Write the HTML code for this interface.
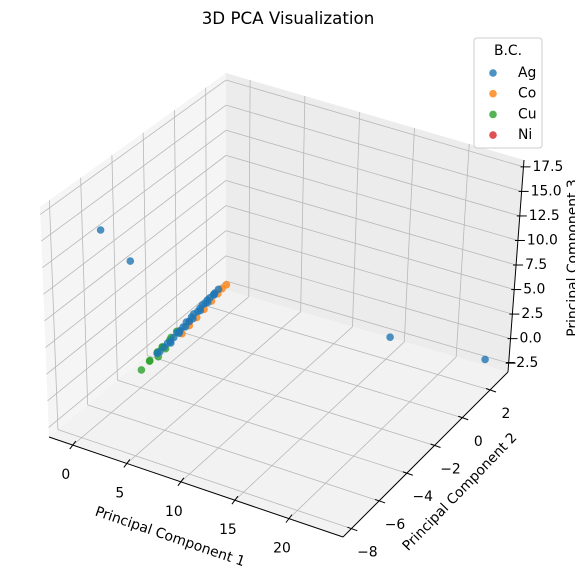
<!DOCTYPE html>
<html><head><meta charset="utf-8"><style>
html,body{margin:0;padding:0;background:#fff;}
svg{display:block;font-family:"DejaVu Sans","Liberation Sans",sans-serif;}
</style></head><body>
<svg id="chart" width="575" height="581" viewBox="0 0 575 581" xmlns="http://www.w3.org/2000/svg">
<text x="288" y="24" font-size="16.7" text-anchor="middle" fill="#000">3D PCA Visualization</text>
<g id="panes"></g><g id="grid"></g><g id="axes"></g><g id="points"></g>
<g id="legend">
<rect x="474" y="38" width="68" height="110" rx="3" fill="#fff" fill-opacity="0.85" stroke="#ccc"/>
<text x="508" y="55" font-size="13.9" text-anchor="middle">B.C.</text>
</g>
</svg>
<script>
const seriesNames = ["Ag","Co","Cu","Ni"];
const seriesColors = ["#1f77b4","#ff7f0e","#2ca02c","#d62728"];
const agX = [1.55,4.2,14.8,23,1.3,1.6,2.0,2.3,2.6,2.9,3.2,3.5,3.8,4.1,4.4,4.6,4.9,5.1,5.4,5.6,5.9,6.1,6.4,6.6,6.8,7.0,2.2,3.0,3.6,4.3,5.0,5.7,6.3];
const agY = [-7.4,-7.4,2.4,3.1,-3.6,-4.0,-3.8,-3.6,-4.0,-3.8,-3.6,-4.0,-3.8,-3.6,-4.0,-3.8,-3.6,-4.0,-3.8,-3.6,-4.0,-3.8,-3.6,-4.0,-3.8,-3.7,-3.5,-3.5,-3.5,-3.5,-3.5,-3.5,-3.5];
const agZ = [15.9,13.8,-1.8,-2.45,0.0,0.4,0.9,1.3,1.7,2.1,2.6,3.0,3.4,3.8,4.3,4.6,5.0,5.3,5.7,6.0,6.4,6.7,7.1,7.3,7.6,7.9,1.0,2.2,3.0,4.0,5.0,6.0,6.9];
const coX = [3.4,4.1,4.8,5.5,6.2,6.8,7.2,7.6];
const coY = [-3.6,-3.6,-3.6,-3.6,-3.6,-3.6,-3.6,-3.6];
const coZ = [2.4,3.4,4.4,5.4,6.4,7.3,7.9,8.4];
const cuX = [-0.2,0.6,0.9,1.2,1.5,1.8,2.1,2.4,2.8,3.2,1.0,1.7];
const cuY = [-3.8,-3.8,-4.0,-3.7,-3.9,-3.8,-4.0,-3.7,-3.9,-3.8,-3.5,-3.5];
const cuZ = [-2,-0.9,-0.5,0.0,0.4,0.8,1.2,1.6,2.2,2.8,-0.7,0.3];
const niX = [3.2,4.1];
const niY = [-3.6,-3.6];
const niZ = [2.6,3.8];
const xTicks = [0,5,10,15,20];
const yTicks = [-8,-6,-4,-2,0,2];
const zTicks = [-2.5,0,2.5,5,7.5,10,12.5,15,17.5];
const xTickLabels = ["0","5","10","15","20"];
const yTickLabels = ["\u22128","\u22126","\u22124","\u22122","0","2"];
const zTickLabels = ["\u22122.5","0.0","2.5","5.0","7.5","10.0","12.5","15.0","17.5"];

const XR=[-2.2,25], YR=[-8.6,3.3], ZR=[-3.4,18.2];
const F={A:[49,437],B:[343,537],C:[508,372],D:[226,290]};
const T={A:[40,207],B:[338,294],C:[524,160],D:[226,73]};
function bil(Q,u,v){const r=[0,0];for(let i=0;i<2;i++){r[i]=Q.A[i]*(1-u)*(1-v)+Q.B[i]*u*(1-v)+Q.C[i]*u*v+Q.D[i]*(1-u)*v;}return r;}
function proj(x,y,z){const u=(x-XR[0])/(XR[1]-XR[0]),v=(y-YR[0])/(YR[1]-YR[0]),w=(z-ZR[0])/(ZR[1]-ZR[0]);
 const a=bil(F,u,v),b=bil(T,u,v);return [a[0]*(1-w)+b[0]*w,a[1]*(1-w)+b[1]*w];}
const NS="http://www.w3.org/2000/svg";
function mk(tag,attrs,parent){const e=document.createElementNS(NS,tag);for(const k in attrs)e.setAttribute(k,attrs[k]);parent.appendChild(e);return e;}
function poly(pts){return pts.map(p=>p[0].toFixed(1)+","+p[1].toFixed(1)).join(" ");}
const gP=document.getElementById("panes"),gG=document.getElementById("grid"),gA=document.getElementById("axes"),gPts=document.getElementById("points");
const x0=XR[0],x1=XR[1],y0=YR[0],y1=YR[1],z0=ZR[0],z1=ZR[1];
let e;
e=mk("polygon",{points:poly([proj(x0,y0,z0),proj(x0,y1,z0),proj(x0,y1,z1),proj(x0,y0,z1)]),fill:"#f5f5f5"},gP);


e=mk("polygon",{points:poly([proj(x0,y1,z0),proj(x1,y1,z0),proj(x1,y1,z1),proj(x0,y1,z1)]),fill:"#ececec"},gP);


e=mk("polygon",{points:poly([proj(x0,y0,z0),proj(x1,y0,z0),proj(x1,y1,z0),proj(x0,y1,z0)]),fill:"#f2f2f2"},gP);


function gl(p,q,name){const l=mk("line",{x1:p[0],y1:p[1],x2:q[0],y2:q[1],stroke:"#b8b8b8","stroke-width":0.8},gG);
 
 }
xTicks.forEach(t=>{gl(proj(t,y0,z0),proj(t,y1,z0),"x-grid-floor");gl(proj(t,y1,z0),proj(t,y1,z1),"x-grid-back");});
yTicks.forEach(t=>{gl(proj(x0,t,z0),proj(x1,t,z0),"y-grid-floor");gl(proj(x0,t,z0),proj(x0,t,z1),"y-grid-left");});
zTicks.forEach(t=>{gl(proj(x0,y0,t),proj(x0,y1,t),"z-grid-left");gl(proj(x0,y1,t),proj(x1,y1,t),"z-grid-back");});
function al(p,q,name){const l=mk("line",{x1:p[0],y1:p[1],x2:q[0],y2:q[1],stroke:"#000","stroke-width":1},gA);
 
 }
al(proj(x0,y0,z0),proj(x1,y0,z0),"x-axis-line");
al(proj(x1,y0,z0),proj(x1,y1,z0),"y-axis-line");
al(proj(x1,y1,z0),proj(x1,y1,z1),"z-axis-line");
function txt(s,x,y,anchor,name,rot){const t=mk("text",{x:x,y:y,"font-size":13.9,"text-anchor":anchor,"dominant-baseline":"central",fill:"#000"},gA);
 if(rot!==undefined)t.setAttribute("transform","rotate("+rot+" "+x+" "+y+")");
 t.textContent=s;
 
 }
xTicks.forEach((t,i)=>{const p=proj(t,y0,z0);al([p[0]+3,p[1]-4],[p[0]-3,p[1]+4],"x-tick");txt(xTickLabels[i],p[0]-7,p[1]+30,"middle","x-tick-label");});
yTicks.forEach((t,i)=>{const p=proj(x1,t,z0);al([p[0]-4,p[1]-1.5],[p[0]+6,p[1]+2],"y-tick");txt(yTickLabels[i],p[0]+16,p[1]+24,"middle","y-tick-label");});
zTicks.forEach((t,i)=>{const p=proj(x1,y1,t);al([p[0]-3,p[1]],[p[0]+7,p[1]],"z-tick");txt(zTickLabels[i],t<0?p[0]-4:p[0]+9,p[1],"start","z-tick-label");});
txt("Principal Component 1",170,537,"middle","x-axis-title",19);
txt("Principal Component 2",460,492,"middle","y-axis-title",-46);
txt("Principal Component 3",573,258,"middle","z-axis-title",-90);
function scatter(X,Y,Z,ci,name){for(let i=0;i<X.length;i++){const p=proj(X[i],Y[i],Z[i]);
 const c=mk("circle",{cx:p[0].toFixed(1),cy:p[1].toFixed(1),r:3.8,fill:seriesColors[ci],"fill-opacity":0.8},gPts);
 
 }}
scatter(niX,niY,niZ,3,"point-ni");
scatter(coX,coY,coZ,1,"point-co");
scatter(cuX,cuY,cuZ,2,"point-cu");
scatter(agX,agY,agZ,0,"point-ag");
const gL=document.getElementById("legend");
seriesNames.forEach((n,i)=>{const y=73+i*20.7;
 const c=mk("circle",{cx:493,cy:y,r:3.8,fill:seriesColors[i],"fill-opacity":0.8},gL);
 
 
 const t=mk("text",{x:518,y:y,"font-size":13.9,"dominant-baseline":"central"},gL);
 t.textContent=n;
 
 });
</script>
</body></html>
